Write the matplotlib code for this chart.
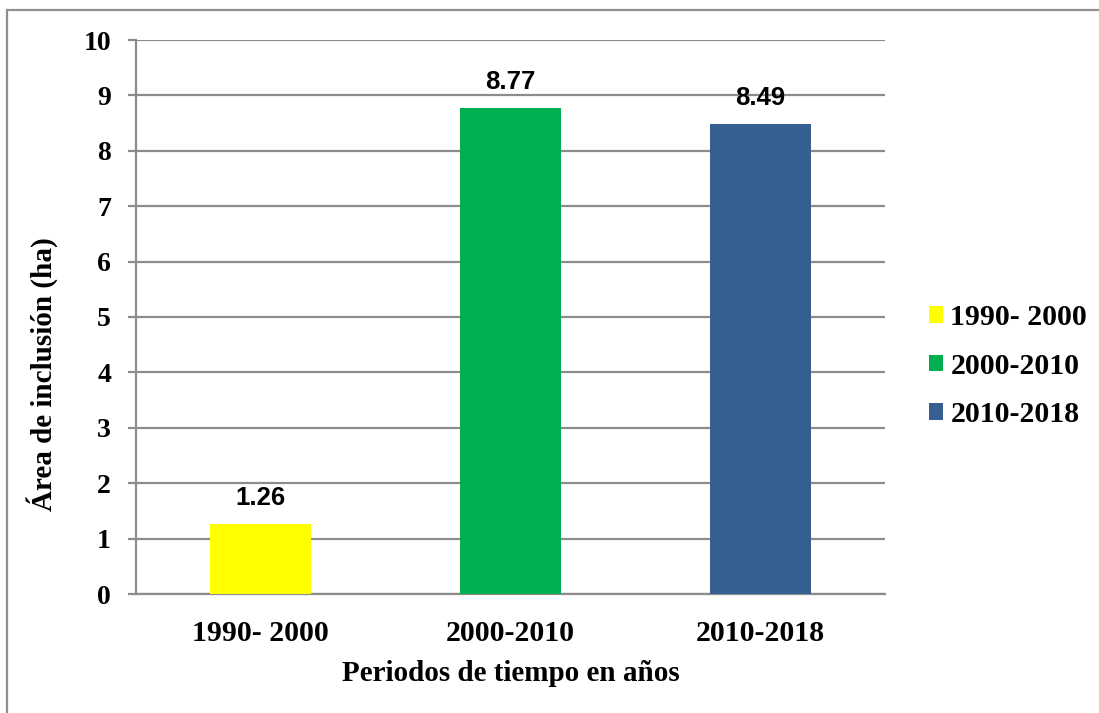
import matplotlib.pyplot as plt
from matplotlib.patches import Rectangle

periods = ['1990- 2000', '2000-2010', '2010-2018']
area_ha = [1.26, 8.77, 8.49]
bar_colors = ['#FFFF00', '#00B050', '#376092']
y_ticks = list(range(0, 11))

serif = ['Liberation Serif', 'DejaVu Serif']
sans = ['Liberation Sans', 'DejaVu Sans']
grid_color = '#8c8c8c'

fig = plt.figure(figsize=(10.99, 7.13), dpi=100)
W, H = 1099, 713

# outer frame of the chart area (runs off the right and bottom edges)
fig.patches.append(Rectangle((7 / W, -0.5), 2, 0.5 + 1 - 10 / H,
                             transform=fig.transFigure, fill=False,
                             edgecolor='#909090', linewidth=1.6))

ax = fig.add_axes([136 / W, 1 - 594 / H, (885 - 136) / W, (594 - 40) / H])

x = range(len(periods))
bars = ax.bar(x, area_ha, width=0.405, color=bar_colors, zorder=3)

for xi, v in zip(x, area_ha):
    ax.annotate(f'{v:.2f}', (xi, v), xytext=(0, 10), textcoords='offset points',
                ha='center', va='bottom', fontsize=18.5, fontweight='bold',
                family=sans)

ax.set_ylim(0, 10)
ax.set_xlim(-0.5, 2.5)
ax.set_yticks(y_ticks)
ax.set_xticks(list(x))
ax.set_xticklabels(periods, fontsize=21.5, fontweight='bold', family=serif)
ax.set_yticklabels([str(t) for t in y_ticks], fontsize=20, fontweight='bold',
                   family=serif)

ax.yaxis.grid(True, color=grid_color, linewidth=1.6, zorder=0)
ax.set_axisbelow(True)
for side in ['top', 'right']:
    ax.spines[side].set_visible(False)
ax.spines['left'].set_color(grid_color)
ax.spines['left'].set_linewidth(1.6)
ax.spines['bottom'].set_color(grid_color)
ax.spines['bottom'].set_linewidth(1.6)
ax.tick_params(axis='y', length=6, width=1.6, color=grid_color, pad=12)
ax.tick_params(axis='x', length=0, pad=19)

ax.set_xlabel('Periodos de tiempo en años', fontsize=21, fontweight='bold',
              family=serif, labelpad=9)
ax.set_ylabel('Área de inclusión (ha)', fontsize=21, fontweight='bold',
              family=serif)
ax.yaxis.set_label_coords(-0.104, 0.397)

leg = fig.legend(bars, periods, loc='center left',
                 bbox_to_anchor=(929 / W, 1 - 366 / H),
                 frameon=False, borderpad=0, borderaxespad=0,
                 handlelength=0.47, handleheight=0.47,
                 handletextpad=0.25, labelspacing=0.72,
                 prop={'family': serif, 'weight': 'bold', 'size': 21.5})

fig.savefig('out.png', dpi=100)
